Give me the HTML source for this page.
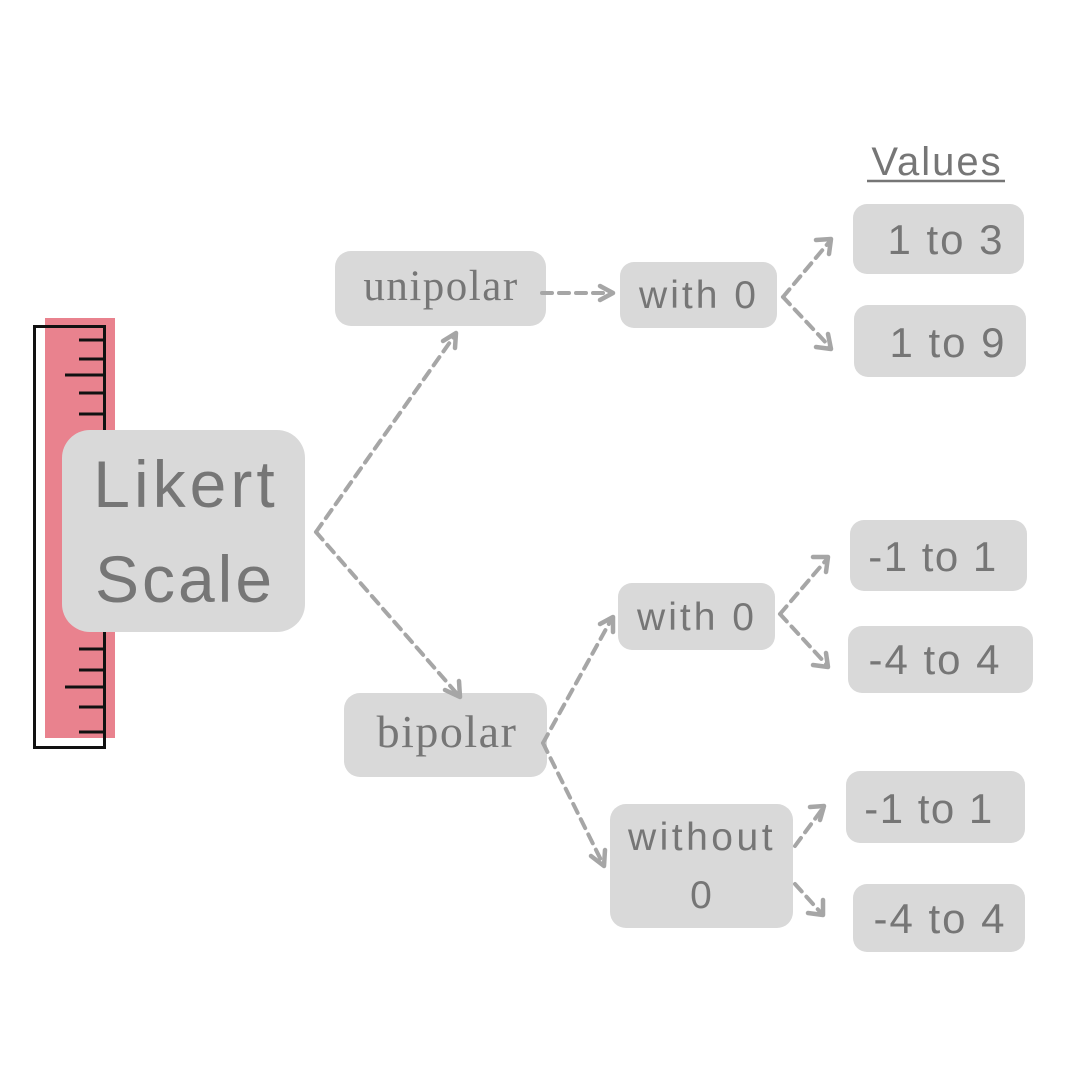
<!DOCTYPE html>
<html><head><meta charset="utf-8"><style>
html,body{margin:0;padding:0;background:#fff;}
svg{display:block;}
</style></head><body>
<svg width="1080" height="1080" viewBox="0 0 1080 1080" xmlns="http://www.w3.org/2000/svg">
<rect x="0" y="0" width="1080" height="1080" fill="#fff"/>
<!-- ruler -->
<rect x="45" y="318" width="70" height="420" fill="#e9828e"/>
<rect x="34.5" y="326.5" width="70" height="421" fill="none" stroke="#111" stroke-width="3"/>
<g stroke="#111" stroke-width="3">
<line x1="79" y1="340" x2="104" y2="340"/>
<line x1="79" y1="359" x2="104" y2="359"/>
<line x1="65" y1="375" x2="104" y2="375"/>
<line x1="79" y1="393" x2="104" y2="393"/>
<line x1="79" y1="414" x2="104" y2="414"/>
<line x1="79" y1="649" x2="104" y2="649"/>
<line x1="79" y1="670" x2="104" y2="670"/>
<line x1="65" y1="687" x2="104" y2="687"/>
<line x1="79" y1="707" x2="104" y2="707"/>
<line x1="79" y1="732" x2="104" y2="732"/>
</g>
<g fill="#d9d9d9">
<rect x="62" y="430" width="243" height="202" rx="28"/>
<rect x="335" y="251" width="211" height="75" rx="16"/>
<rect x="620" y="262" width="157" height="66" rx="14"/>
<rect x="853" y="204" width="171" height="70" rx="14"/>
<rect x="854" y="305" width="172" height="72" rx="14"/>
<rect x="344" y="693" width="203" height="84" rx="16"/>
<rect x="618" y="583" width="157" height="67" rx="14"/>
<rect x="850" y="520" width="177" height="71" rx="14"/>
<rect x="848" y="626" width="185" height="67" rx="14"/>
<rect x="610" y="804" width="183" height="124" rx="16"/>
<rect x="846" y="771" width="179" height="72" rx="14"/>
<rect x="853" y="884" width="172" height="68" rx="14"/>
</g>
<g stroke="#a6a6a6" stroke-width="4" fill="none" stroke-dasharray="10 7" stroke-linecap="round">
<path d="M316 532 L455 335"/>
<path d="M316 532 L459 696"/>
<path d="M542 293 L611 293"/>
<path d="M783 297 L830 241"/>
<path d="M783 297 L830 347"/>
<path d="M543 743 L611 620"/>
<path d="M543 743 L603 864"/>
<path d="M780 614 L827 559"/>
<path d="M780 614 L827 665"/>
<path d="M795 846 L823 808"/>
<path d="M795 884 L822 914"/>
</g>
<g stroke="#a6a6a6" stroke-width="4.5" fill="none" stroke-linecap="round" stroke-linejoin="round">
<path d="M443 341 L456 333 L455 348"/>
<path d="M459 681 L460 697 L445 690"/>
<path d="M600 286 L613 293 L600 300"/>
<path d="M816 240 L831 239 L829 254"/>
<path d="M828 334 L831 349 L816 347"/>
<path d="M600 624 L613 617 L613 632"/>
<path d="M591 856 L604 866 L605 850"/>
<path d="M813 557 L828 557 L826 572"/>
<path d="M826 653 L828 667 L813 665"/>
<path d="M810 807 L824 806 L820 820"/>
<path d="M823 900 L823 915 L808 913"/>
</g>
<g fill="#767676" font-family="Liberation Sans, sans-serif" text-anchor="middle">
<text x="186" y="507" font-size="66" letter-spacing="4">Likert</text>
<text x="185" y="602" font-size="66" letter-spacing="3">Scale</text>
<text x="441" y="300" font-size="43" letter-spacing="1.5" font-family="Liberation Serif, serif">unipolar</text>
<text x="447" y="747" font-size="46" letter-spacing="1.5" font-family="Liberation Serif, serif">bipolar</text>
<text x="699" y="308" font-size="39" letter-spacing="3">with 0</text>
<text x="697" y="630" font-size="39" letter-spacing="3">with 0</text>
<text x="702" y="850" font-size="39" letter-spacing="3.5">without</text>
<text x="701" y="908" font-size="39">0</text>
<text x="946" y="254" font-size="42" letter-spacing="2">1 to 3</text>
<text x="948" y="357" font-size="42" letter-spacing="2">1 to 9</text>
<text x="933" y="571" font-size="42" letter-spacing="1.5">-1 to 1</text>
<text x="935" y="674" font-size="42" letter-spacing="2">-4 to 4</text>
<text x="929" y="823" font-size="42" letter-spacing="1.5">-1 to 1</text>
<text x="940" y="933" font-size="42" letter-spacing="2">-4 to 4</text>
<text x="937" y="175" font-size="40" letter-spacing="2">Values</text>
</g>
<line x1="867" y1="181" x2="1005" y2="181" stroke="#767676" stroke-width="2.5"/>
</svg>
</body></html>
